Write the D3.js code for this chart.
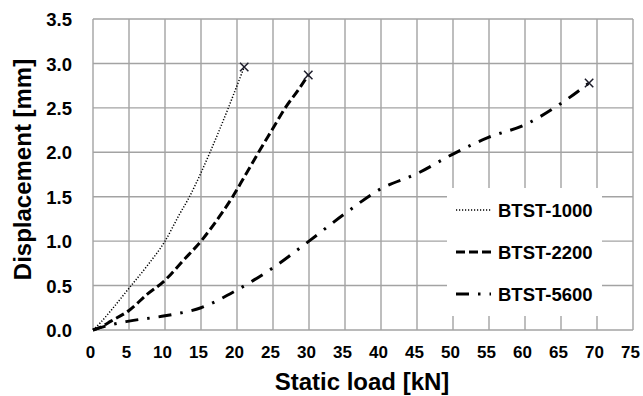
<!DOCTYPE html>
<html>
<head>
<meta charset="utf-8">
<script src="https://cdn.jsdelivr.net/npm/d3@7"></script>
<style>
  body { margin: 0; background: #fff; }
  svg text { font-family: "Liberation Sans", Arial, sans-serif; font-weight: bold; fill: #000; }
</style>
</head>
<body>
<svg id="chart" width="643" height="396"></svg>
<script>
// load [kN] vs displacement [mm]
var btst1000 = [[0,0],[1,0.08],[2.5,0.22],[5,0.47],[7.5,0.72],[10,1.0],[12,1.3],[13.4,1.5],[15,1.77],[16.25,2.0],[17.5,2.24],[18.8,2.5],[20,2.75],[21,2.96]];
var btst2200 = [[0,0],[1,0.03],[2.5,0.1],[5,0.22],[7.5,0.4],[10,0.56],[12.5,0.78],[15,1.0],[17.5,1.27],[19.4,1.5],[21,1.72],[23,2.0],[25,2.27],[26.7,2.5],[28.5,2.7],[29.9,2.87]];
var btst5600 = [[0,0],[2.5,0.06],[5,0.1],[10,0.16],[15,0.25],[20,0.45],[25,0.7],[30,1.0],[35,1.31],[40,1.59],[45,1.76],[50,1.98],[55,2.17],[60,2.31],[65,2.55],[68.9,2.78]];

var seriesNames = ["BTST-1000", "BTST-2200", "BTST-5600"];
var xTicks = d3.range(0, 76, 5);
var yTicks = d3.range(0, 3.51, 0.5);

var series = [
  { name: seriesNames[0], data: btst1000, dash: "1.2,1.8", width: 1.5 },
  { name: seriesNames[1], data: btst2200, dash: "9,4", width: 3 },
  { name: seriesNames[2], data: btst5600, dash: "13,9,2.5,9", width: 3 }
];

var svg = d3.select("#chart");
var margin = { left: 93, top: 19, right: 10, bottom: 66 };
var W = 643, H = 396;

var x = d3.scaleLinear().domain([0, 75]).range([margin.left, W - margin.right]);
var y = d3.scaleLinear().domain([0, 3.5]).range([H - margin.bottom, margin.top]);

var gridColor = "#a3a3a3";

// grid
var grid = svg.append("g");
grid.selectAll("line.vx").data(xTicks).enter().append("line")
  .attr("x1", function(d) { return x(d); }).attr("x2", function(d) { return x(d); })
  .attr("y1", y(0)).attr("y2", y(3.5))
  .attr("stroke", gridColor).attr("stroke-width", 1.4);
grid.selectAll("line.hy").data(yTicks).enter().append("line")
  .attr("y1", function(d) { return y(d); }).attr("y2", function(d) { return y(d); })
  .attr("x1", x(0)).attr("x2", x(75))
  .attr("stroke", gridColor).attr("stroke-width", 1.4);

// axes (labels only)
var xAxis = svg.append("g")
  .attr("transform", "translate(0," + y(0) + ")")
  .call(d3.axisBottom(x).tickValues(xTicks).tickSize(0).tickPadding(0).tickFormat(d3.format("d")));
xAxis.select(".domain").remove();
xAxis.selectAll("text")
  .attr("dy", 0).attr("y", 28).attr("dx", -3)
  .style("font-size", "17px");

var yAxis = svg.append("g")
  .attr("transform", "translate(" + x(0) + ",0)")
  .call(d3.axisLeft(y).tickValues(yTicks).tickSize(0).tickPadding(21).tickFormat(d3.format(".1f")));
yAxis.select(".domain").remove();
yAxis.selectAll("text").style("font-size", "18.5px").attr("dy", "0.36em");

// titles
svg.append("text")
  .attr("x", (x(0) + x(75)) / 2 - 1).attr("y", 390)
  .attr("text-anchor", "middle").style("font-size", "24px")
  .text("Static load [kN]");
svg.append("text")
  .attr("transform", "translate(31," + (y(1.75) - 5) + ") rotate(-90)")
  .attr("text-anchor", "middle").style("font-size", "24px")
  .text("Displacement [mm]");

// series
var line = d3.line()
  .x(function(d) { return x(d[0]); })
  .y(function(d) { return y(d[1]); })
  .curve(d3.curveMonotoneX);

series.forEach(function(s) {
  svg.append("path")
    .datum(s.data)
    .attr("d", line)
    .attr("fill", "none")
    .attr("stroke", "#000")
    .attr("stroke-width", s.width)
    .attr("stroke-dasharray", s.dash);

  // failure marker at last point
  var last = s.data[s.data.length - 1];
  var cx = x(last[0]), cy = y(last[1]), r = 4.2;
  svg.append("path")
    .attr("d", "M" + (cx - r) + "," + (cy - r) + "L" + (cx + r) + "," + (cy + r) +
               "M" + (cx - r) + "," + (cy + r) + "L" + (cx + r) + "," + (cy - r))
    .attr("stroke", "#1c1c2a").attr("stroke-width", 1.5).attr("fill", "none");
});

// legend
var lg = svg.append("g").attr("transform", "translate(447,188)");
lg.append("rect").attr("width", 155).attr("height", 128).attr("fill", "#fff");
series.forEach(function(s, i) {
  var ry = 22 + i * 42;
  lg.append("line")
    .attr("x1", 9).attr("x2", 44).attr("y1", ry).attr("y2", ry)
    .attr("stroke", "#000").attr("stroke-width", s.width)
    .attr("stroke-dasharray", s.dash);
  lg.append("text")
    .attr("x", 51).attr("y", ry).attr("dy", "0.36em")
    .style("font-size", "18.5px")
    .text(s.name);
});
</script>
</body>
</html>
